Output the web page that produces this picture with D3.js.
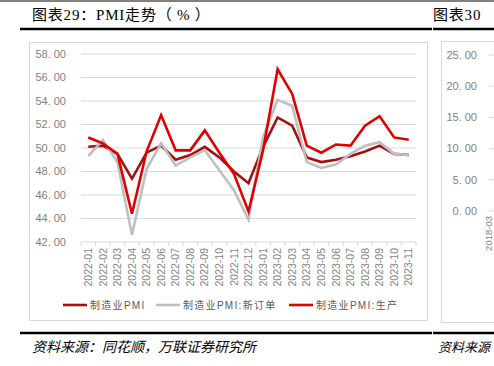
<!DOCTYPE html>
<html>
<head>
<meta charset="utf-8">
<script src="https://cdn.jsdelivr.net/npm/d3@7"></script>
<style>
  body { margin: 0; background: #fff; }
  svg { display: block; }
</style>
</head>
<body>
<div id="chart"></div>
<script>
const months = ["2022-01","2022-02","2022-03","2022-04","2022-05","2022-06","2022-07","2022-08","2022-09","2022-10","2022-11","2022-12",
                "2023-01","2023-02","2023-03","2023-04","2023-05","2023-06","2023-07","2023-08","2023-09","2023-10","2023-11"];
const pmi = [50.1,50.2,49.5,47.4,49.6,50.2,49.0,49.4,50.1,49.2,48.0,47.0,50.1,52.6,51.9,49.2,48.8,49.0,49.3,49.7,50.2,49.5,49.4];
const newOrders = [49.3,50.7,48.8,42.6,48.2,50.4,48.5,49.2,49.8,48.1,46.4,43.9,50.9,54.1,53.6,48.8,48.3,48.6,49.5,50.2,50.5,49.5,49.4];
const production = [50.9,50.4,49.5,44.4,49.7,52.8,49.8,49.8,51.5,49.6,47.8,44.6,49.8,56.7,54.6,50.2,49.6,50.3,50.2,51.9,52.7,50.9,50.7];
const yTicks = [42,44,46,48,50,52,54,56,58];
const rightTicks = [0,5,10,15,20,25];

const seriesList = [
  {name: "制造业PMI", values: pmi, color: "#a50f0f"},
  {name: "制造业PMI:新订单", values: newOrders, color: "#bfbfbf"},
  {name: "制造业PMI:生产", values: production, color: "#e00000"}
];

const W = 494, H = 366;
const svg = d3.select("#chart").append("svg")
  .attr("width", W).attr("height", H);

const cjk = "'Liberation Sans','Noto Sans CJK SC',sans-serif";
const serif = "'Liberation Serif','Noto Sans CJK SC',serif";

// page frame lines and titles
svg.append("line").attr("x1", 0).attr("x2", W).attr("y1", 1).attr("y2", 1)
   .attr("stroke", "#000").attr("stroke-width", 1);
svg.append("line").attr("x1", 20).attr("x2", 432).attr("y1", 29).attr("y2", 29)
   .attr("stroke", "#000").attr("stroke-width", 2.5);
svg.append("line").attr("x1", 433).attr("x2", W).attr("y1", 29).attr("y2", 29)
   .attr("stroke", "#000").attr("stroke-width", 2.5);
svg.append("text").attr("x", 32).attr("y", 20)
   .attr("font-family", serif).attr("font-size", 15).attr("letter-spacing", 0.8)
   .attr("fill", "#000")
   .text("图表29：PMI走势（ % ）");
svg.append("text").attr("x", 433).attr("y", 20)
   .attr("font-family", serif).attr("font-size", 15).attr("letter-spacing", 0.8)
   .attr("fill", "#000")
   .text("图表30");

svg.append("line").attr("x1", 20).attr("x2", 432).attr("y1", 333).attr("y2", 333)
   .attr("stroke", "#000").attr("stroke-width", 2.5);
svg.append("line").attr("x1", 433).attr("x2", W).attr("y1", 333).attr("y2", 333)
   .attr("stroke", "#000").attr("stroke-width", 2.5);
svg.append("text").attr("x", 32).attr("y", 352)
   .attr("font-family", "'Noto Sans CJK SC',sans-serif")
   .attr("font-size", 14).attr("font-style", "italic").attr("fill", "#000")
   .text("资料来源：同花顺，万联证券研究所");
svg.append("text").attr("x", 438).attr("y", 352)
   .attr("font-family", "'Noto Sans CJK SC',sans-serif")
   .attr("font-size", 13).attr("font-style", "italic").attr("fill", "#000")
   .text("资料来源");

// chart box
svg.append("rect").attr("x", 29.5).attr("y", 42.5).attr("width", 398).attr("height", 278)
   .attr("fill", "none").attr("stroke", "#d9d9d9");

const x = d3.scaleBand().domain(months).range([81, 416]);
const y = d3.scaleLinear().domain([42, 58]).range([242, 54]);

// gridlines
svg.append("g").selectAll("line").data(yTicks.slice(1)).enter().append("line")
   .attr("x1", 81).attr("x2", 416)
   .attr("y1", d => y(d)).attr("y2", d => y(d))
   .attr("stroke", "#d9d9d9").attr("stroke-width", 1);

// y axis labels
svg.append("g").selectAll("text").data(yTicks).enter().append("text")
   .attr("x", 66).attr("y", d => y(d)).attr("dy", "0.35em")
   .attr("text-anchor", "end")
   .attr("font-family", cjk).attr("font-size", 11).attr("fill", "#7f7f7f")
   .text(d => d.toFixed(2).replace(".", ". "));

// x axis
const xAxis = svg.append("g").attr("transform", `translate(0,${y(42)})`);
xAxis.append("line").attr("x1", 81).attr("x2", 416).attr("stroke", "#d9d9d9");
xAxis.selectAll(".tk").data(months.concat(["end"])).enter().append("line")
   .attr("x1", (d, i) => 81 + i * x.step()).attr("x2", (d, i) => 81 + i * x.step())
   .attr("y1", 0).attr("y2", 4).attr("stroke", "#d9d9d9");
xAxis.selectAll("text").data(months).enter().append("text")
   .attr("transform", d => `translate(${x(d) + x.bandwidth() / 2},6) rotate(-90)`)
   .attr("text-anchor", "end").attr("dy", "0.35em")
   .attr("font-family", cjk).attr("font-size", 10.5).attr("fill", "#7f7f7f")
   .text(d => d);

// lines
const line = d3.line()
  .x((d, i) => x(months[i]) + x.bandwidth() / 2)
  .y(d => y(d));
seriesList.forEach(s => {
  svg.append("path").datum(s.values)
     .attr("d", line)
     .attr("fill", "none")
     .attr("stroke", s.color)
     .attr("stroke-width", 2.6)
     .attr("stroke-linejoin", "miter");
});

// legend
const legendX = [63, 156, 289];
const legend = svg.append("g").selectAll("g").data(seriesList).enter().append("g")
   .attr("transform", (d, i) => `translate(${legendX[i]},305)`);
legend.append("line").attr("x1", 0).attr("x2", 24)
   .attr("stroke", d => d.color).attr("stroke-width", 2.6);
legend.append("text").attr("x", 27).attr("dy", "0.35em")
   .attr("font-family", cjk).attr("font-size", 10).attr("letter-spacing", 1.3)
   .attr("fill", "#595959")
   .text(d => d.name);

// right-hand neighbour chart (cut off by the page edge)
svg.append("rect").attr("x", 441.5).attr("y", 41.5).attr("width", 80).attr("height", 281)
   .attr("fill", "none").attr("stroke", "#d9d9d9");
const yr = d3.scaleLinear().domain([0, 25]).range([211, 55]);
svg.append("g").selectAll("text").data(rightTicks).enter().append("text")
   .attr("x", 477).attr("y", d => yr(d)).attr("dy", "0.35em")
   .attr("text-anchor", "end")
   .attr("font-family", cjk).attr("font-size", 11).attr("fill", "#7f7f7f")
   .text(d => d.toFixed(2).replace(".", ". "));
svg.append("g").selectAll("line").data(rightTicks).enter().append("line")
   .attr("x1", 489).attr("x2", 494)
   .attr("y1", d => yr(d)).attr("y2", d => yr(d))
   .attr("stroke", "#d9d9d9");
svg.append("text")
   .attr("transform", "translate(489,216) rotate(-90)")
   .attr("text-anchor", "end").attr("dy", "0.35em")
   .attr("font-family", cjk).attr("font-size", 9.5).attr("fill", "#7f7f7f")
   .text("2018-03");
</script>
</body>
</html>
